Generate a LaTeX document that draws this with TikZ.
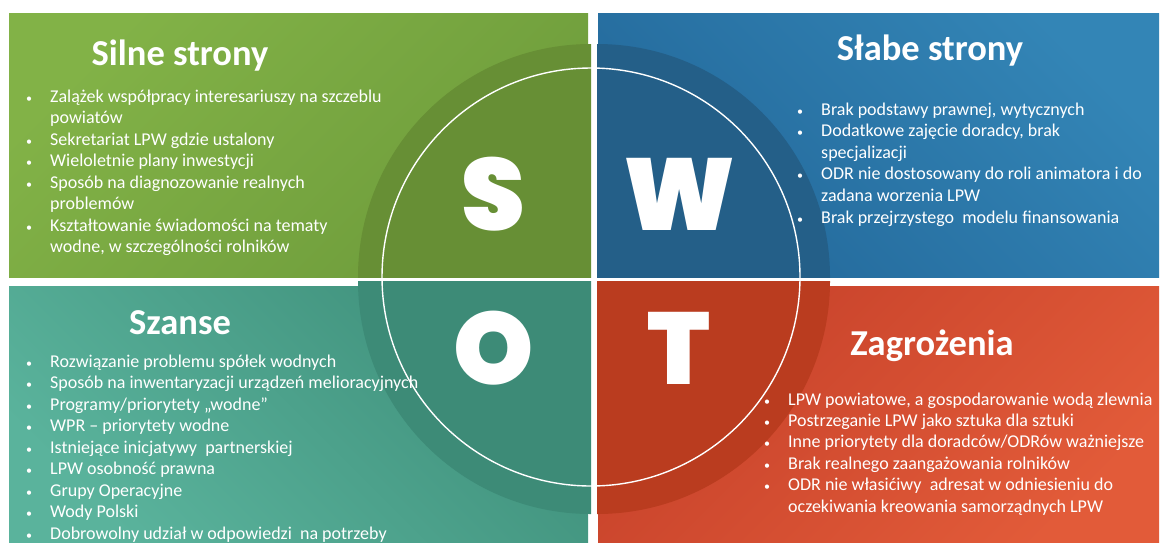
\documentclass[tikz,border=0pt]{standalone}
\usepackage{fontspec}
\setmainfont{Carlito}
\newfontfamily\letterfont{Poppins Black}
\definecolor{gLight}{HTML}{82B247}
\definecolor{gDark}{HTML}{6E9C3B}
\definecolor{gDisk}{HTML}{678F35}
\definecolor{bLight}{HTML}{3385B6}
\definecolor{bDark}{HTML}{23689A}
\definecolor{bDisk}{HTML}{245F88}
\definecolor{tDark}{HTML}{3F907B}
\definecolor{tLight}{HTML}{5AB39C}
\definecolor{tDisk}{HTML}{3D8B77}
\definecolor{rDark}{HTML}{C6412A}
\definecolor{rLight}{HTML}{E25B39}
\definecolor{rDisk}{HTML}{BA3C1F}
\newcommand{\swotbul}{\llap{\makebox[0pt][c]{\fontsize{12}{12}\selectfont•}\hspace{21pt}}}
\begin{document}
\begin{tikzpicture}[x=1pt,y=1pt,
  txt/.style={font=\fontsize{18}{21}\selectfont, text=white, inner sep=0pt, anchor=base west},
  ttl/.style={font=\fontsize{36.5}{42}\selectfont\bfseries, text=white, inner sep=0pt, anchor=base},
  bigletter/.style={font=\letterfont\fontsize{102}{106}\selectfont, text=white, inner sep=0pt, anchor=center}]
\useasboundingbox (0,0) rectangle (1161,-542);
\fill[white] (0,0) rectangle (1161,-542);
% panels
\shade[top color=gLight, bottom color=gDark, shading angle=45] (9,-13) rectangle (588,-277);
\shade[top color=bLight, bottom color=bDark, shading angle=-45] (598,-13) rectangle (1159,-277);
\shade[top color=tDark, bottom color=tLight, shading angle=-45] (9,-286) rectangle (588,-542);
\shade[top color=rDark, bottom color=rLight, shading angle=45] (598,-286) rectangle (1159,-542);
% dark quarter disks
\begin{scope}
  \clip (358,-44) rectangle (591,-277);
  \fill[gDisk] (591,-277) circle[radius=233];
\end{scope}
\begin{scope}
  \clip (597,-44) rectangle (830,-277);
  \fill[bDisk] (597,-277) circle[radius=233];
\end{scope}
\begin{scope}
  \clip (358,-281) rectangle (591,-514);
  \fill[tDisk] (591,-281) circle[radius=233];
\end{scope}
\begin{scope}
  \clip (597,-281) rectangle (830,-514);
  \fill[rDisk] (597,-281) circle[radius=233];
\end{scope}
% white ring
\draw[white, line width=1.4pt] (591,-277) circle[radius=209];
% big letters
\node[bigletter] (S) at (493,-194) {S};
\node[bigletter] (W) at (680,-194) {W};
\node[bigletter] (O) at (494,-348) {O};
\node[bigletter] (T) at (679,-348) {T};
% titles
\node[ttl] (tS) at (180,-65) {Silne strony};
\node[ttl] (tW) at (930,-60) {Słabe strony};
\node[ttl] (tO) at (180,-334) {Szanse};
\node[ttl] (tT) at (932,-355) {Zagrożenia};
% strengths
\foreach \t [count=\i from 0] in {
  {\swotbul Zalążek współpracy interesariuszy na szczeblu},
  {powiatów},
  {\swotbul Sekretariat LPW gdzie ustalony},
  {\swotbul Wieloletnie plany inwestycji},
  {\swotbul Sposób na diagnozowanie realnych},
  {problemów},
  {\swotbul Kształtowanie świadomości na tematy},
  {wodne, w szczególności rolników}}
  \node[txt] (s\i) at (50,{-102-21.5*\i}) {\t};
% weaknesses
\foreach \t [count=\i from 0] in {
  {\swotbul Brak podstawy prawnej, wytycznych},
  {\swotbul Dodatkowe zajęcie doradcy, brak},
  {specjalizacji},
  {\swotbul ODR nie dostosowany do roli animatora i do},
  {zadana worzenia LPW},
  {\swotbul Brak przejrzystego\ \ modelu finansowania}}
  \node[txt] (w\i) at (821,{-115-21.6*\i}) {\t};
% opportunities
\foreach \t [count=\i from 0] in {
  {\swotbul Rozwiązanie problemu spółek wodnych},
  {\swotbul Sposób na inwentaryzacji urządzeń melioracyjnych},
  {\swotbul Programy/priorytety „wodne”},
  {\swotbul WPR – priorytety wodne},
  {\swotbul Istniejące inicjatywy\ \ partnerskiej},
  {\swotbul LPW osobność prawna},
  {\swotbul Grupy Operacyjne},
  {\swotbul Wody Polski},
  {\swotbul Dobrowolny udział w odpowiedzi\ \ na potrzeby}}
  \node[txt] (o\i) at (50,{-367-21.5*\i}) {\t};
% threats
\foreach \t [count=\i from 0] in {
  {\swotbul LPW powiatowe, a gospodarowanie wodą zlewnia},
  {\swotbul Postrzeganie LPW jako sztuka dla sztuki},
  {\swotbul Inne priorytety dla doradców/ODRów ważniejsze},
  {\swotbul Brak realnego zaangażowania rolników},
  {\swotbul ODR nie własićiwy\ \ adresat w odniesieniu do},
  {oczekiwania kreowania samorządnych LPW}}
  \node[txt] (t\i) at (788,{-405-21.4*\i}) {\t};
\end{tikzpicture}
\end{document}
